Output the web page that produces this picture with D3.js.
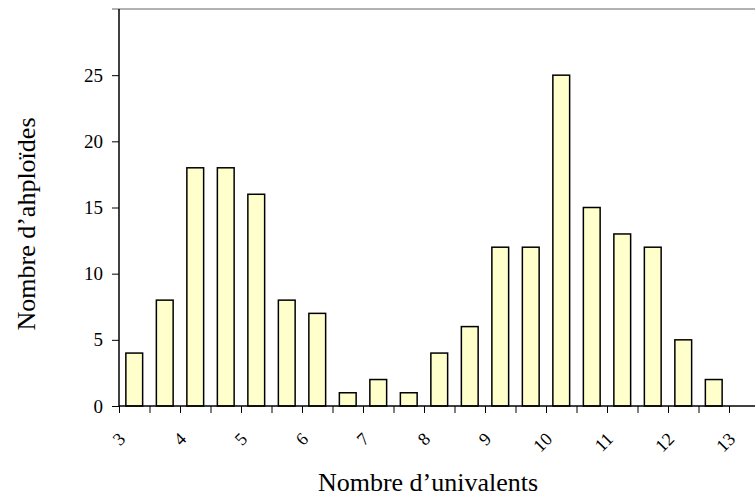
<!DOCTYPE html>
<html>
<head>
<meta charset="utf-8">
<script src="https://cdn.jsdelivr.net/npm/d3@7"></script>
<style>
  body { margin: 0; background: #fff; }
  svg { display: block; }
  text { font-family: 'Liberation Serif', 'Times New Roman', serif; fill: #000; }
</style>
</head>
<body>
<svg width="755" height="497"></svg>
<script>
'use strict';

// bins of univalent counts (start of each half-unit bin)
const binStarts = [3, 3.5, 4, 4.5, 5, 5.5, 6, 6.5, 7, 7.5, 8, 8.5, 9, 9.5, 10, 10.5, 11, 11.5, 12, 12.5]
const counts = [4, 8, 18, 18, 16, 8, 7, 1, 2, 1, 4, 6, 12, 12, 25, 15, 13, 12, 5, 2]
const xTickLabels = [3, 4, 5, 6, 7, 8, 9, 10, 11, 12, 13]
const yTickLabels = [0, 5, 10, 15, 20, 25]

const serif = "'Liberation Serif', 'Times New Roman', serif"
const svg = d3.select('svg')
const plotLeft = 119, plotRight = 729, plotTop = 9, plotBottom = 406

const x = d3.scaleLinear().domain([3, 13]).range([plotLeft, plotRight])
const y = d3.scaleLinear().domain([0, 30]).range([plotBottom, plotTop])
const binW = 0.5
const barW = (x(binW) - x(0)) * 0.55

// top border line
svg.append('line')
  .attr('x1', plotLeft - 7).attr('x2', 755)
  .attr('y1', y(30)).attr('y2', y(30))
  .style('stroke', '#999').style('stroke-width', '1.5px')

// bars
svg.append('g').selectAll('rect')
  .data(binStarts.map((b, i) => ({b: b, v: counts[i]})))
  .enter().append('rect')
  .attr('x', (d) => x(d.b + binW / 2) - barW / 2)
  .attr('y', (d) => y(d.v))
  .attr('width', barW)
  .attr('height', (d) => y(0) - y(d.v))
  .style('fill', '#FFFFCC')
  .style('stroke', '#000')
  .style('stroke-width', '1.5px')

// y axis
const yAxis = d3.axisLeft(y).tickValues(yTickLabels).tickSize(7).tickPadding(9)
const gy = svg.append('g').attr('transform', 'translate(' + plotLeft + ',0)').call(yAxis)
  .attr('font-family', serif).attr('font-size', 19)
gy.select('.domain').remove()
gy.append('line').attr('x1', 0).attr('x2', 0).attr('y1', plotTop).attr('y2', plotBottom)
  .style('stroke', '#000').style('stroke-width', '1.5px')
gy.selectAll('.tick line').style('stroke', '#000')

// x axis
const halfTicks = d3.range(3, 13.01, 0.5)
const xAxis = d3.axisBottom(x).tickValues(halfTicks).tickSize(7).tickFormat('')
const gx = svg.append('g').attr('transform', 'translate(0,' + plotBottom + ')').call(xAxis)
gx.select('.domain').remove()
gx.append('line').attr('x1', plotLeft).attr('x2', 755).attr('y1', 0).attr('y2', 0)
  .style('stroke', '#000').style('stroke-width', '1.5px')
gx.selectAll('.tick line').style('stroke', '#000')

svg.append('g').selectAll('text')
  .data(xTickLabels)
  .enter().append('text')
  .attr('transform', (d) => 'translate(' + (x(d) + 3) + ',436) rotate(-45)')
  .attr('text-anchor', 'end')
  .attr('dominant-baseline', 'central')
  .style('font-size', '18px')
  .text((d) => d)

// titles
svg.append('text')
  .attr('x', 428).attr('y', 491)
  .attr('text-anchor', 'middle')
  .style('font-size', '26px')
  .text('Nombre d\u2019univalents')

svg.append('text')
  .attr('transform', 'translate(35,224) rotate(-90)')
  .attr('text-anchor', 'middle')
  .style('font-size', '26px')
  .text('Nombre d\u2019ahploïdes')
</script>
</body>
</html>
